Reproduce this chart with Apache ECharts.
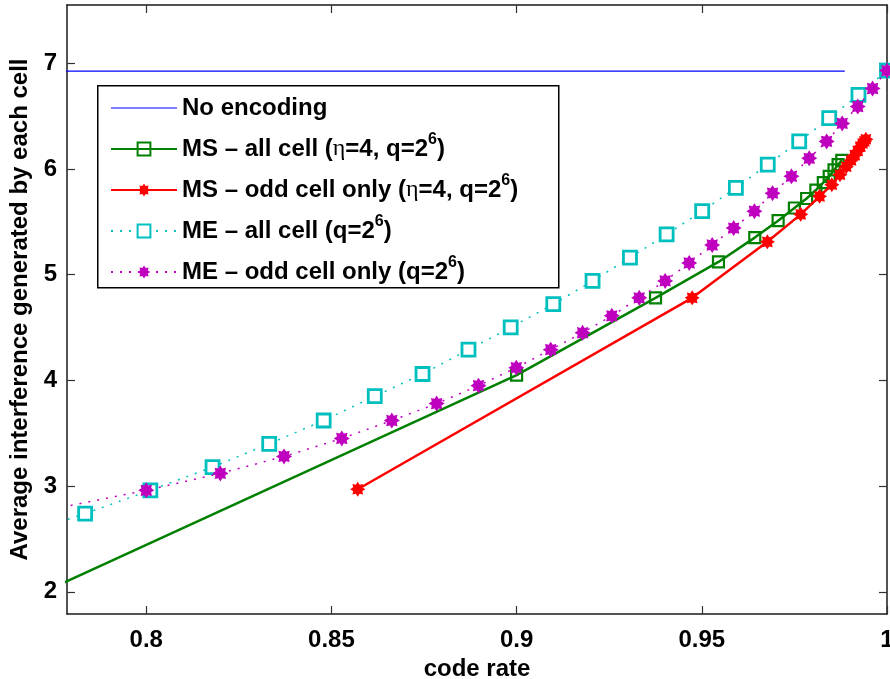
<!DOCTYPE html>
<html>
<head>
<meta charset="utf-8">
<script src="https://cdn.jsdelivr.net/npm/echarts@6/dist/echarts.min.js"></script>
<style>html,body{margin:0;padding:0;background:#fff;}#c{width:890px;height:679px;}</style>
</head>
<body>
<div id="c"></div>
<script>
// ---- data ----
const seriesNames = ['No encoding', 'MS – all cell (η=4, q=2^6)', 'MS – odd cell only (η=4, q=2^6)', 'ME – all cell (q=2^6)', 'ME – odd cell only (q=2^6)'];
const noEncX = [0.75, 0.9886];
const noEncY = [6.925, 6.925];
const msAllX = [0.75, 0.9, 0.9375, 0.9545, 0.9643, 0.9706, 0.975, 0.9783, 0.9808, 0.9828, 0.9844, 0.9857, 0.9868, 0.9878];
const msAllY = [1.64, 4.05, 4.78, 5.12, 5.35, 5.51, 5.63, 5.72, 5.80, 5.87, 5.93, 5.99, 6.04, 6.08];
const msOddX = [0.8571, 0.9474, 0.9677, 0.9767, 0.9818, 0.9851, 0.9873, 0.9890, 0.9903, 0.9913, 0.9921, 0.9928, 0.9934, 0.9939, 0.9943];
const msOddY = [2.97, 4.78, 5.31, 5.57, 5.74, 5.85, 5.945, 6.02, 6.08, 6.13, 6.17, 6.21, 6.24, 6.26, 6.28];
const meAllX = [0.765, 0.7835, 0.8011, 0.8179, 0.8332, 0.8479, 0.8617, 0.8746, 0.8870, 0.8984, 0.9099, 0.9205, 0.9306, 0.9405, 0.9501, 0.9592, 0.9678, 0.9763, 0.9844, 0.9923, 1.0];
const meAllY = [2.52, 2.74, 2.96, 3.18, 3.40, 3.62, 3.85, 4.06, 4.29, 4.50, 4.72, 4.94, 5.16, 5.38, 5.60, 5.82, 6.04, 6.26, 6.48, 6.70, 6.93];
const meOddX = [0.7772, 0.8, 0.82, 0.8372, 0.8528, 0.8663, 0.8784, 0.8897, 0.8999, 0.9092, 0.9178, 0.9257, 0.9331, 0.9401, 0.9466, 0.9528, 0.9586, 0.9642, 0.9691, 0.9742, 0.9790, 0.9837, 0.9879, 0.9921, 0.9961, 1.0];
const meOddY = [2.80, 2.96, 3.12, 3.28, 3.45, 3.62, 3.78, 3.95, 4.12, 4.29, 4.45, 4.61, 4.78, 4.94, 5.11, 5.28, 5.44, 5.60, 5.77, 5.93, 6.10, 6.26, 6.43, 6.59, 6.76, 6.93];
const xTicks = [0.8, 0.85, 0.9, 0.95, 1];
const yTicks = [2, 3, 4, 5, 6, 7];
const xName = 'code rate';
const yName = 'Average interference generated by each cell';

// ---- helpers ----
const zip = (xs, ys) => xs.map((x, i) => [x, ys[i]]);
const asterisk = (() => {
  const pts = [];
  for (let i = 0; i < 16; i++) {
    const r = i % 2 === 0 ? 10 : 6.6;
    const a = i * Math.PI / 8 - Math.PI / 2;
    pts.push((10 + r * Math.cos(a)).toFixed(2) + ' ' + (10 + r * Math.sin(a)).toFixed(2));
  }
  return 'path://M' + pts.join(' L ') + ' Z';
})();

const FONT = 'Liberation Sans, Arial, sans-serif';
const FS = 24;
const XMIN = 0.7786, XMAX = 1, YMIN = 1.79, YMAX = 7.55;
const axisCommon = {
  axisLine: { show: true, onZero: false, lineStyle: { color: '#1a1a1a', width: 1.5 } },
  splitLine: { show: false },
};
const tickStyle = { color: '#333', width: 1.2 };

const chart = echarts.init(document.getElementById('c'), null, { renderer: 'canvas' });
chart.setOption({
  animation: false,
  backgroundColor: '#fff',
  grid: { left: 67, right: 3, top: 5, bottom: 65, containLabel: false, outerBoundsMode: 'none' },
  xAxis: [
    Object.assign({
      type: 'value', min: XMIN, max: XMAX, position: 'bottom',
      name: xName, nameLocation: 'middle', nameGap: 42,
      nameTextStyle: { fontSize: FS, fontWeight: 'bold', fontFamily: FONT, color: '#000' },
      axisTick: { show: true, inside: true, length: 8, customValues: xTicks, lineStyle: tickStyle },
      axisLabel: { show: true, customValues: xTicks, margin: 14, fontSize: FS, fontWeight: 'bold', fontFamily: FONT, color: '#000',
        formatter: v => String(+(+v).toFixed(2)) },
    }, axisCommon),
    Object.assign({
      type: 'value', min: XMIN, max: XMAX, position: 'top',
      axisTick: { show: true, inside: true, length: 8, customValues: xTicks, lineStyle: tickStyle },
      axisLabel: { show: false },
    }, axisCommon),
  ],
  yAxis: [
    Object.assign({
      type: 'value', min: YMIN, max: YMAX, position: 'left',
      name: yName, nameLocation: 'middle', nameGap: 34,
      nameTextStyle: { fontSize: FS, fontWeight: 'bold', fontFamily: FONT, color: '#000' },
      axisTick: { show: true, inside: true, length: 8, customValues: yTicks, lineStyle: tickStyle },
      axisLabel: { show: true, customValues: yTicks, margin: 10, fontSize: FS, fontWeight: 'bold', fontFamily: FONT, color: '#000' },
    }, axisCommon),
    Object.assign({
      type: 'value', min: YMIN, max: YMAX, position: 'right',
      axisTick: { show: true, inside: true, length: 8, customValues: yTicks, lineStyle: tickStyle },
      axisLabel: { show: false },
    }, axisCommon),
  ],
  graphic: [{
    type: 'rect', z: 3, left: 97, top: 85,
    shape: { width: 461, height: 202 },
    style: { fill: '#fff', stroke: '#000', lineWidth: 1.5 },
  }],
  legend: {
    z: 6, orient: 'vertical', left: 110, top: 96, padding: 0,
    itemWidth: 66, itemHeight: 16, itemGap: 12,
    data: seriesNames.map((n, i) => i === 0 ? { name: n, icon: 'path://M0 0 L66 0 L66 1 L0 1 Z', itemStyle: { color: '#0000ff' } } : { name: n }),
    formatter: name => '{t|' + name.replace('η', '}{e|η}{t|').replace('^6', '}{s|6}{t|') + '}',
    textStyle: {
      rich: {
        t: { fontSize: FS, fontWeight: 'bold', fontFamily: FONT, color: '#000', lineHeight: 34 },
        e: { fontSize: FS, fontWeight: 'normal', fontFamily: 'Liberation Serif, serif', color: '#000', lineHeight: 34 },
        s: { fontSize: 16, fontWeight: 'bold', fontFamily: FONT, color: '#000', lineHeight: 17, verticalAlign: 'top' },
      },
    },
  },
  series: [
    {
      name: seriesNames[0], type: 'line', data: zip(noEncX, noEncY), symbol: 'none',
      lineStyle: { color: '#0000ff', width: 1.3 }, itemStyle: { color: '#0000ff' }, z: 2,
    },
    {
      name: seriesNames[1], type: 'line', data: zip(msAllX, msAllY), symbol: 'rect', symbolSize: 11,
      lineStyle: { color: '#008000', width: 2.5 },
      itemStyle: { color: 'rgba(255,255,255,0)', borderColor: '#008000', borderWidth: 2.2 }, z: 3,
    },
    {
      name: seriesNames[2], type: 'line', data: zip(msOddX, msOddY), symbol: asterisk, symbolSize: 15,
      lineStyle: { color: '#ff0000', width: 2.5 },
      itemStyle: { color: '#ff0000', borderWidth: 0 }, z: 4,
    },
    {
      name: seriesNames[3], type: 'line', data: zip(meAllX, meAllY), symbol: 'rect', symbolSize: 13,
      lineStyle: { color: '#00bfbf', width: 1.5, type: [2, 7] },
      itemStyle: { color: '#ffffff', borderColor: '#00bfbf', borderWidth: 2.8 }, z: 3,
    },
    {
      name: seriesNames[4], type: 'line', data: zip(meOddX, meOddY), symbol: asterisk, symbolSize: 16,
      lineStyle: { color: '#bf00bf', width: 1.5, type: [2, 7] },
      itemStyle: { color: '#bf00bf', borderWidth: 0 }, z: 4,
    },
  ],
});
</script>
</body>
</html>
